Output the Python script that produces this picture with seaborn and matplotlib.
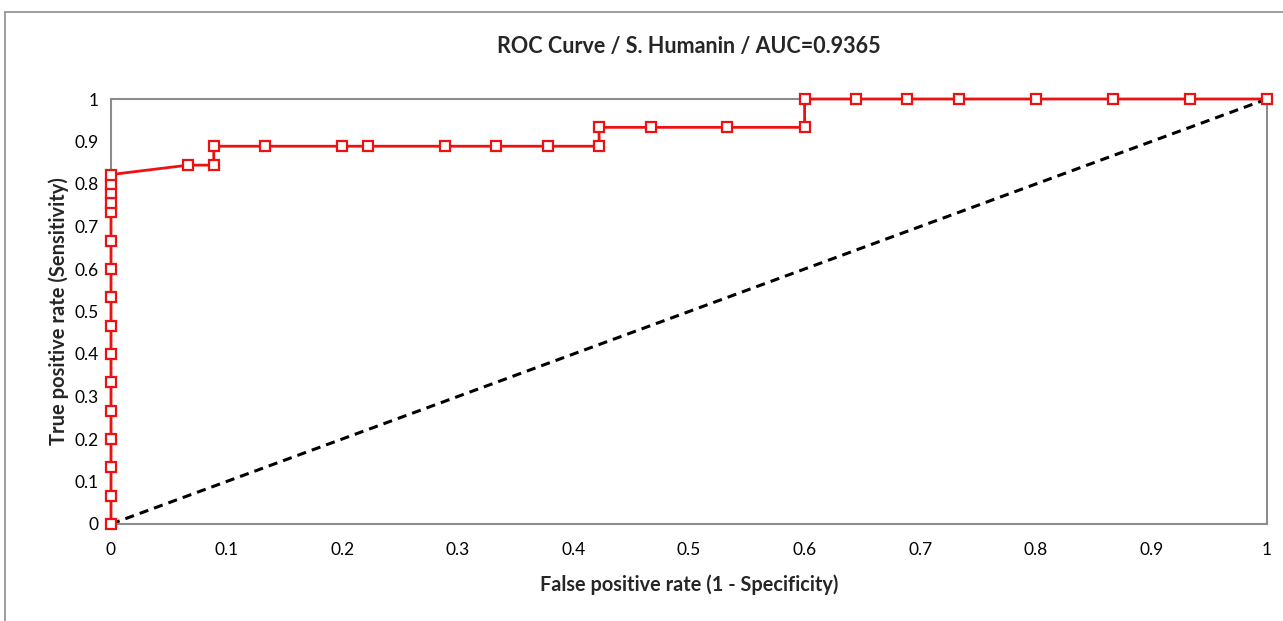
import matplotlib
matplotlib.use("Agg")
import matplotlib.pyplot as plt
import seaborn as sns
import pandas as pd
from matplotlib.patches import Rectangle

fpr = [0, 0, 0, 0, 0, 0, 0, 0, 0, 0, 0, 0, 0, 0, 0, 0,
       0.0667, 0.0889, 0.0889, 0.1333, 0.2, 0.2222, 0.2889, 0.3333, 0.3778,
       0.4222, 0.4222, 0.4667, 0.5333, 0.6, 0.6, 0.6444, 0.6889, 0.7333,
       0.8, 0.8667, 0.9333, 1.0]
tpr = [0, 0.0667, 0.1333, 0.2, 0.2667, 0.3333, 0.4, 0.4667, 0.5333, 0.6,
       0.6667, 0.7333, 0.7556, 0.7778, 0.8, 0.8222,
       0.8444, 0.8444, 0.8889, 0.8889, 0.8889, 0.8889, 0.8889, 0.8889, 0.8889,
       0.8889, 0.9333, 0.9333, 0.9333, 0.9333, 1.0, 1.0, 1.0, 1.0,
       1.0, 1.0, 1.0, 1.0]
diag = [0, 1]
ticks = [0, 0.1, 0.2, 0.3, 0.4, 0.5, 0.6, 0.7, 0.8, 0.9, 1]
tick_labels = ["0", "0.1", "0.2", "0.3", "0.4", "0.5", "0.6", "0.7", "0.8", "0.9", "1"]
title = "ROC Curve / S. Humanin / AUC=0.9365"
xlabel = "False positive rate (1 - Specificity)"
ylabel = "True positive rate (Sensitivity)"

sns.set_theme(style="white")
plt.rcParams['font.family'] = ['Lato', 'DejaVu Sans']

fig = plt.figure(figsize=(12.83, 6.21), dpi=100)
ax = fig.add_axes([111/1283, 1-524/621, (1267-111)/1283, (524-99)/621])

# outer chart-area border
fig.patches.append(Rectangle((5/1283, -0.1), 1.2, 1 - 12/621 + 0.1, transform=fig.transFigure,
                             fill=False, edgecolor="#8c8c8c", linewidth=1.2))

df = pd.DataFrame({"fpr": fpr, "tpr": tpr})
sns.lineplot(x=diag, y=diag, ax=ax, color="black", linestyle=(0, (3, 2)), linewidth=2.2,
             zorder=2, estimator=None)
sns.lineplot(data=df, x="fpr", y="tpr", ax=ax, sort=False, estimator=None, color="#ee1111",
             linewidth=2, marker="s", markersize=7, markerfacecolor="white",
             markeredgecolor="#ee1111", markeredgewidth=1.6, zorder=3, clip_on=False)

ax.set_xlim(0, 1)
ax.set_ylim(0, 1)
ax.set_xticks(ticks)
ax.set_xticklabels(tick_labels)
ax.set_yticks(ticks)
ax.set_yticklabels(tick_labels)
for s in ax.spines.values():
    s.set_color("#8c8c8c")
    s.set_linewidth(1.5)
ax.tick_params(axis="both", direction="inout", length=10, width=1.2, color="#8c8c8c",
               labelsize=12.5, labelcolor="black")
ax.tick_params(axis="x", pad=8)
ax.tick_params(axis="y", pad=4)
ax.set_title(title, fontsize=15.5, fontweight="bold", pad=33)
ax.set_xlabel(xlabel, fontsize=14.3, fontweight="bold", labelpad=12)
ax.set_ylabel(ylabel, fontsize=14.5, fontweight="bold", labelpad=4)

fig.savefig("out.png", dpi=100, facecolor="white")
